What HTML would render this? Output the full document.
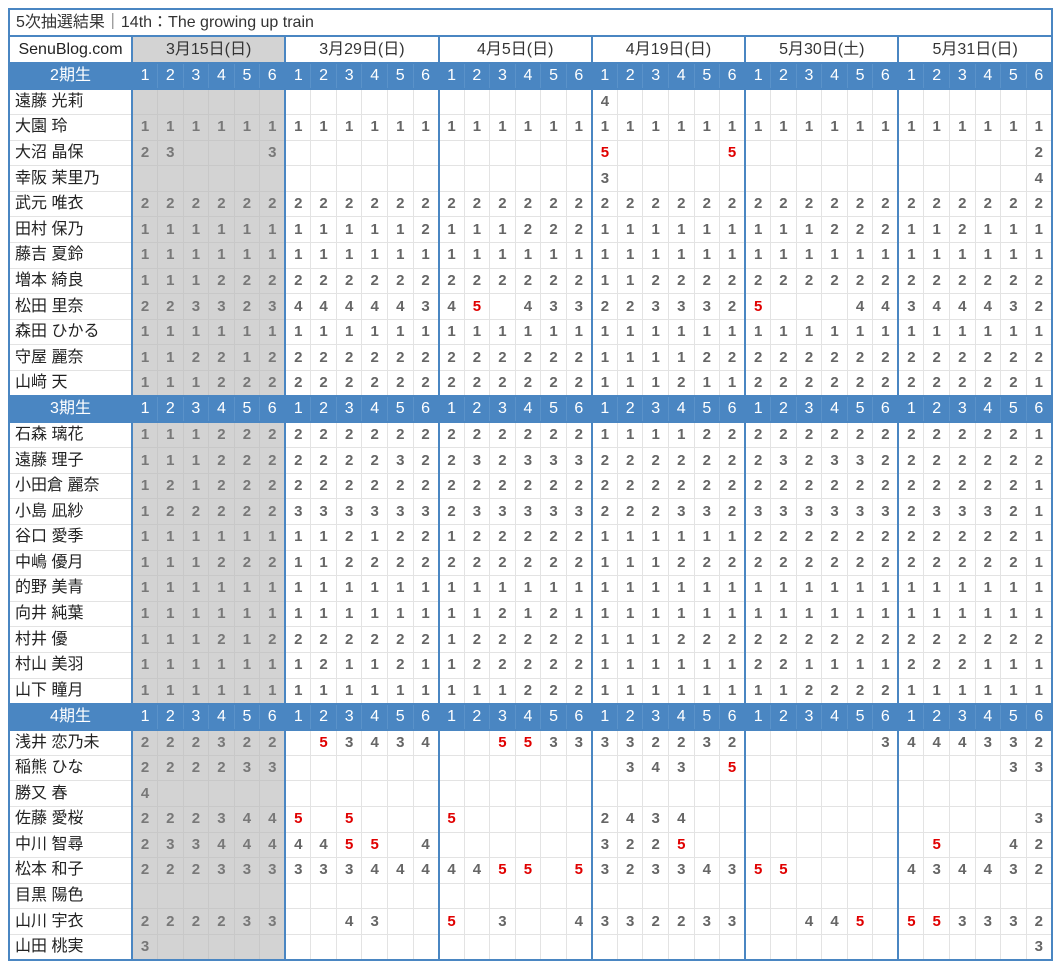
<!DOCTYPE html>
<html><head><meta charset="utf-8">
<style>
html,body{margin:0;padding:0;background:#fff}
body{width:1060px;height:970px;overflow:hidden;position:relative}
table{position:absolute;left:8px;top:8px;width:1045px;border-collapse:collapse;table-layout:fixed;border:2px solid #4a86c2;font-family:"Liberation Sans","Noto Sans CJK JP",sans-serif}
td{padding:0;border:1px solid #e3e3e3;text-align:center;font-size:15px;font-weight:bold;color:#666;white-space:nowrap;overflow:hidden;line-height:18px}
tr{height:25.6px}
tr.t{height:27px}
tr.h{height:27px}
tr.s{height:26px}
td:first-child{text-align:left;padding-left:5px;font-weight:normal;color:#222;font-size:16px;border-right:2px solid #4a86c2}
td:nth-child(6n+2){border-left:2px solid #4a86c2}
tr.d td:nth-child(-n+7){background:#d3d3d3;color:#787878;border-top-color:#c8c8c8;border-bottom-color:#c8c8c8;border-right-color:#c8c8c8}
tr.d td:first-child{background:#fff;color:#222;border-top-color:#e3e3e3;border-bottom-color:#e3e3e3;border-right:2px solid #4a86c2}
td.r{color:#e00000}
tr.t td{font-weight:normal;color:#333;font-size:16px;padding-left:6px;border-bottom:2px solid #4a86c2;border-right:none}
tr.h td{font-weight:normal;color:#333;font-size:16px;border-left:2px solid #4a86c2;border-right:2px solid #4a86c2;border-bottom:2px solid #4a86c2}
tr.h td:first-child{text-align:center;padding-left:0;color:#222}
tr.h td.g{background:#d3d3d3}
tr.s td{background:#4a86c2;color:#fff;font-weight:normal;font-size:16px;border-color:#5a92c9;border-top:2px solid #4a86c2;border-bottom:2px solid #4a86c2}
tr.s td:nth-child(6n+2){border-left:2px solid #4a86c2}
tr.s td:first-child{color:#fff;text-align:center;padding-left:0;border-right:2px solid #4a86c2}
</style></head><body>
<table>
<colgroup><col style="width:123px"><col span="36"></colgroup>
<tr class="t"><td colspan="37">5次抽選結果｜14th：The growing up train</td></tr>
<tr class="h"><td>SenuBlog.com</td><td colspan="6" class="g">3月15日(日)</td><td colspan="6">3月29日(日)</td><td colspan="6">4月5日(日)</td><td colspan="6">4月19日(日)</td><td colspan="6">5月30日(土)</td><td colspan="6">5月31日(日)</td></tr>

<tr class="s"><td>2期生<td>1<td>2<td>3<td>4<td>5<td>6<td>1<td>2<td>3<td>4<td>5<td>6<td>1<td>2<td>3<td>4<td>5<td>6<td>1<td>2<td>3<td>4<td>5<td>6<td>1<td>2<td>3<td>4<td>5<td>6<td>1<td>2<td>3<td>4<td>5<td>6</tr>
<tr class="d"><td>遠藤 光莉<td><td><td><td><td><td><td><td><td><td><td><td><td><td><td><td><td><td><td>4<td><td><td><td><td><td><td><td><td><td><td><td><td><td><td><td><td></tr>
<tr class="d"><td>大園 玲<td>1<td>1<td>1<td>1<td>1<td>1<td>1<td>1<td>1<td>1<td>1<td>1<td>1<td>1<td>1<td>1<td>1<td>1<td>1<td>1<td>1<td>1<td>1<td>1<td>1<td>1<td>1<td>1<td>1<td>1<td>1<td>1<td>1<td>1<td>1<td>1</tr>
<tr class="d"><td>大沼 晶保<td>2<td>3<td><td><td><td>3<td><td><td><td><td><td><td><td><td><td><td><td><td class="r">5<td><td><td><td><td class="r">5<td><td><td><td><td><td><td><td><td><td><td><td>2</tr>
<tr class="d"><td>幸阪 茉里乃<td><td><td><td><td><td><td><td><td><td><td><td><td><td><td><td><td><td><td>3<td><td><td><td><td><td><td><td><td><td><td><td><td><td><td><td><td>4</tr>
<tr class="d"><td>武元 唯衣<td>2<td>2<td>2<td>2<td>2<td>2<td>2<td>2<td>2<td>2<td>2<td>2<td>2<td>2<td>2<td>2<td>2<td>2<td>2<td>2<td>2<td>2<td>2<td>2<td>2<td>2<td>2<td>2<td>2<td>2<td>2<td>2<td>2<td>2<td>2<td>2</tr>
<tr class="d"><td>田村 保乃<td>1<td>1<td>1<td>1<td>1<td>1<td>1<td>1<td>1<td>1<td>1<td>2<td>1<td>1<td>1<td>2<td>2<td>2<td>1<td>1<td>1<td>1<td>1<td>1<td>1<td>1<td>1<td>2<td>2<td>2<td>1<td>1<td>2<td>1<td>1<td>1</tr>
<tr class="d"><td>藤吉 夏鈴<td>1<td>1<td>1<td>1<td>1<td>1<td>1<td>1<td>1<td>1<td>1<td>1<td>1<td>1<td>1<td>1<td>1<td>1<td>1<td>1<td>1<td>1<td>1<td>1<td>1<td>1<td>1<td>1<td>1<td>1<td>1<td>1<td>1<td>1<td>1<td>1</tr>
<tr class="d"><td>増本 綺良<td>1<td>1<td>1<td>2<td>2<td>2<td>2<td>2<td>2<td>2<td>2<td>2<td>2<td>2<td>2<td>2<td>2<td>2<td>1<td>1<td>2<td>2<td>2<td>2<td>2<td>2<td>2<td>2<td>2<td>2<td>2<td>2<td>2<td>2<td>2<td>2</tr>
<tr class="d"><td>松田 里奈<td>2<td>2<td>3<td>3<td>2<td>3<td>4<td>4<td>4<td>4<td>4<td>3<td>4<td class="r">5<td><td>4<td>3<td>3<td>2<td>2<td>3<td>3<td>3<td>2<td class="r">5<td><td><td><td>4<td>4<td>3<td>4<td>4<td>4<td>3<td>2</tr>
<tr class="d"><td>森田 ひかる<td>1<td>1<td>1<td>1<td>1<td>1<td>1<td>1<td>1<td>1<td>1<td>1<td>1<td>1<td>1<td>1<td>1<td>1<td>1<td>1<td>1<td>1<td>1<td>1<td>1<td>1<td>1<td>1<td>1<td>1<td>1<td>1<td>1<td>1<td>1<td>1</tr>
<tr class="d"><td>守屋 麗奈<td>1<td>1<td>2<td>2<td>1<td>2<td>2<td>2<td>2<td>2<td>2<td>2<td>2<td>2<td>2<td>2<td>2<td>2<td>1<td>1<td>1<td>1<td>2<td>2<td>2<td>2<td>2<td>2<td>2<td>2<td>2<td>2<td>2<td>2<td>2<td>2</tr>
<tr class="d"><td>山﨑 天<td>1<td>1<td>1<td>2<td>2<td>2<td>2<td>2<td>2<td>2<td>2<td>2<td>2<td>2<td>2<td>2<td>2<td>2<td>1<td>1<td>1<td>2<td>1<td>1<td>2<td>2<td>2<td>2<td>2<td>2<td>2<td>2<td>2<td>2<td>2<td>1</tr>

<tr class="s"><td>3期生<td>1<td>2<td>3<td>4<td>5<td>6<td>1<td>2<td>3<td>4<td>5<td>6<td>1<td>2<td>3<td>4<td>5<td>6<td>1<td>2<td>3<td>4<td>5<td>6<td>1<td>2<td>3<td>4<td>5<td>6<td>1<td>2<td>3<td>4<td>5<td>6</tr>
<tr class="d"><td>石森 璃花<td>1<td>1<td>1<td>2<td>2<td>2<td>2<td>2<td>2<td>2<td>2<td>2<td>2<td>2<td>2<td>2<td>2<td>2<td>1<td>1<td>1<td>1<td>2<td>2<td>2<td>2<td>2<td>2<td>2<td>2<td>2<td>2<td>2<td>2<td>2<td>1</tr>
<tr class="d"><td>遠藤 理子<td>1<td>1<td>1<td>2<td>2<td>2<td>2<td>2<td>2<td>2<td>3<td>2<td>2<td>3<td>2<td>3<td>3<td>3<td>2<td>2<td>2<td>2<td>2<td>2<td>2<td>3<td>2<td>3<td>3<td>2<td>2<td>2<td>2<td>2<td>2<td>2</tr>
<tr class="d"><td>小田倉 麗奈<td>1<td>2<td>1<td>2<td>2<td>2<td>2<td>2<td>2<td>2<td>2<td>2<td>2<td>2<td>2<td>2<td>2<td>2<td>2<td>2<td>2<td>2<td>2<td>2<td>2<td>2<td>2<td>2<td>2<td>2<td>2<td>2<td>2<td>2<td>2<td>1</tr>
<tr class="d"><td>小島 凪紗<td>1<td>2<td>2<td>2<td>2<td>2<td>3<td>3<td>3<td>3<td>3<td>3<td>2<td>3<td>3<td>3<td>3<td>3<td>2<td>2<td>2<td>3<td>3<td>2<td>3<td>3<td>3<td>3<td>3<td>3<td>2<td>3<td>3<td>3<td>2<td>1</tr>
<tr class="d"><td>谷口 愛季<td>1<td>1<td>1<td>1<td>1<td>1<td>1<td>1<td>2<td>1<td>2<td>2<td>1<td>2<td>2<td>2<td>2<td>2<td>1<td>1<td>1<td>1<td>1<td>1<td>2<td>2<td>2<td>2<td>2<td>2<td>2<td>2<td>2<td>2<td>2<td>1</tr>
<tr class="d"><td>中嶋 優月<td>1<td>1<td>1<td>2<td>2<td>2<td>1<td>1<td>2<td>2<td>2<td>2<td>2<td>2<td>2<td>2<td>2<td>2<td>1<td>1<td>1<td>2<td>2<td>2<td>2<td>2<td>2<td>2<td>2<td>2<td>2<td>2<td>2<td>2<td>2<td>1</tr>
<tr class="d"><td>的野 美青<td>1<td>1<td>1<td>1<td>1<td>1<td>1<td>1<td>1<td>1<td>1<td>1<td>1<td>1<td>1<td>1<td>1<td>1<td>1<td>1<td>1<td>1<td>1<td>1<td>1<td>1<td>1<td>1<td>1<td>1<td>1<td>1<td>1<td>1<td>1<td>1</tr>
<tr class="d"><td>向井 純葉<td>1<td>1<td>1<td>1<td>1<td>1<td>1<td>1<td>1<td>1<td>1<td>1<td>1<td>1<td>2<td>1<td>2<td>1<td>1<td>1<td>1<td>1<td>1<td>1<td>1<td>1<td>1<td>1<td>1<td>1<td>1<td>1<td>1<td>1<td>1<td>1</tr>
<tr class="d"><td>村井 優<td>1<td>1<td>1<td>2<td>1<td>2<td>2<td>2<td>2<td>2<td>2<td>2<td>1<td>2<td>2<td>2<td>2<td>2<td>1<td>1<td>1<td>2<td>2<td>2<td>2<td>2<td>2<td>2<td>2<td>2<td>2<td>2<td>2<td>2<td>2<td>2</tr>
<tr class="d"><td>村山 美羽<td>1<td>1<td>1<td>1<td>1<td>1<td>1<td>2<td>1<td>1<td>2<td>1<td>1<td>2<td>2<td>2<td>2<td>2<td>1<td>1<td>1<td>1<td>1<td>1<td>2<td>2<td>1<td>1<td>1<td>1<td>2<td>2<td>2<td>1<td>1<td>1</tr>
<tr class="d"><td>山下 瞳月<td>1<td>1<td>1<td>1<td>1<td>1<td>1<td>1<td>1<td>1<td>1<td>1<td>1<td>1<td>1<td>2<td>2<td>2<td>1<td>1<td>1<td>1<td>1<td>1<td>1<td>1<td>2<td>2<td>2<td>2<td>1<td>1<td>1<td>1<td>1<td>1</tr>

<tr class="s"><td>4期生<td>1<td>2<td>3<td>4<td>5<td>6<td>1<td>2<td>3<td>4<td>5<td>6<td>1<td>2<td>3<td>4<td>5<td>6<td>1<td>2<td>3<td>4<td>5<td>6<td>1<td>2<td>3<td>4<td>5<td>6<td>1<td>2<td>3<td>4<td>5<td>6</tr>
<tr class="d"><td>浅井 恋乃未<td>2<td>2<td>2<td>3<td>2<td>2<td><td class="r">5<td>3<td>4<td>3<td>4<td><td><td class="r">5<td class="r">5<td>3<td>3<td>3<td>3<td>2<td>2<td>3<td>2<td><td><td><td><td><td>3<td>4<td>4<td>4<td>3<td>3<td>2</tr>
<tr class="d"><td>稲熊 ひな<td>2<td>2<td>2<td>2<td>3<td>3<td><td><td><td><td><td><td><td><td><td><td><td><td><td>3<td>4<td>3<td><td class="r">5<td><td><td><td><td><td><td><td><td><td><td>3<td>3</tr>
<tr class="d"><td>勝又 春<td>4<td><td><td><td><td><td><td><td><td><td><td><td><td><td><td><td><td><td><td><td><td><td><td><td><td><td><td><td><td><td><td><td><td><td><td></tr>
<tr class="d"><td>佐藤 愛桜<td>2<td>2<td>2<td>3<td>4<td>4<td class="r">5<td><td class="r">5<td><td><td><td class="r">5<td><td><td><td><td><td>2<td>4<td>3<td>4<td><td><td><td><td><td><td><td><td><td><td><td><td><td>3</tr>
<tr class="d"><td>中川 智尋<td>2<td>3<td>3<td>4<td>4<td>4<td>4<td>4<td class="r">5<td class="r">5<td><td>4<td><td><td><td><td><td><td>3<td>2<td>2<td class="r">5<td><td><td><td><td><td><td><td><td><td class="r">5<td><td><td>4<td>2</tr>
<tr class="d"><td>松本 和子<td>2<td>2<td>2<td>3<td>3<td>3<td>3<td>3<td>3<td>4<td>4<td>4<td>4<td>4<td class="r">5<td class="r">5<td><td class="r">5<td>3<td>2<td>3<td>3<td>4<td>3<td class="r">5<td class="r">5<td><td><td><td><td>4<td>3<td>4<td>4<td>3<td>2</tr>
<tr class="d"><td>目黒 陽色<td><td><td><td><td><td><td><td><td><td><td><td><td><td><td><td><td><td><td><td><td><td><td><td><td><td><td><td><td><td><td><td><td><td><td><td></tr>
<tr class="d"><td>山川 宇衣<td>2<td>2<td>2<td>2<td>3<td>3<td><td><td>4<td>3<td><td><td class="r">5<td><td>3<td><td><td>4<td>3<td>3<td>2<td>2<td>3<td>3<td><td><td>4<td>4<td class="r">5<td><td class="r">5<td class="r">5<td>3<td>3<td>3<td>2</tr>
<tr class="d"><td>山田 桃実<td>3<td><td><td><td><td><td><td><td><td><td><td><td><td><td><td><td><td><td><td><td><td><td><td><td><td><td><td><td><td><td><td><td><td><td><td>3</tr>
</table>
</body></html>
